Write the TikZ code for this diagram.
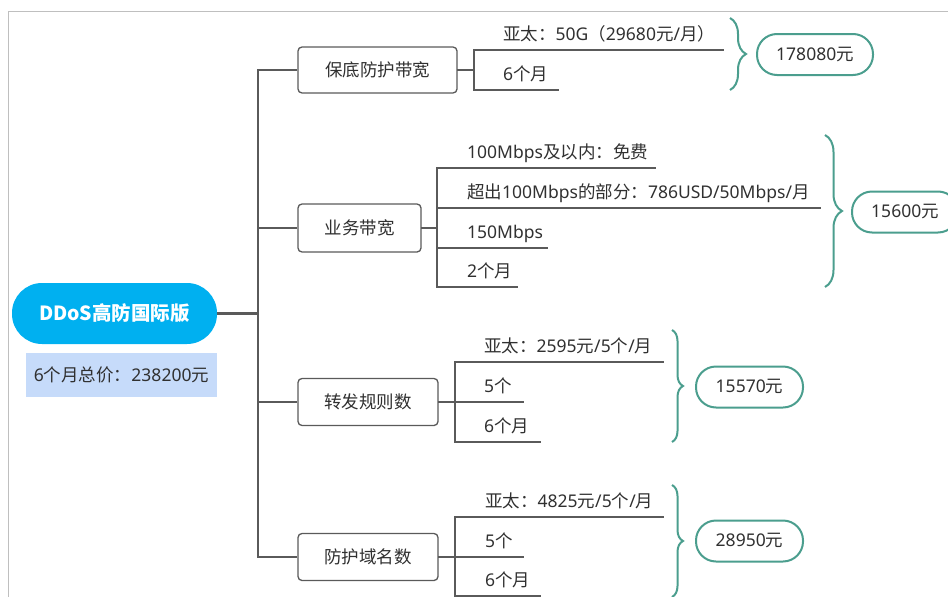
\documentclass[tikz,border=0pt]{standalone}
\usepackage{fontspec}
\setmainfont{Noto Sans}
\newfontfamily\cjk{Noto Sans CJK SC}
\newcommand\zh[1]{{\cjk #1}}
\usetikzlibrary{decorations.pathreplacing}
\definecolor{txt}{HTML}{303030}
\definecolor{ln}{HTML}{5A5A5A}
\definecolor{teal2}{HTML}{4B9E8E}
\definecolor{mainblue}{HTML}{00B0F0}
\definecolor{notebg}{HTML}{C6DBFA}
\definecolor{framecol}{HTML}{BFBFBF}
\newcommand\mmleaf[6]{%
  \coordinate (#1s) at (#2,#3);
  \coordinate (#1e) at (#4,#3);
  \node[leaftext, anchor=base west] (#1) at (#5,#3-10) {#6};
  \draw[leafline] (#1s) -- (#1e);
}
\begin{document}
\begin{tikzpicture}[x=1pt,y=-1pt,
  every node/.style={font=\fontsize{17.5}{20}\selectfont, text=txt},
  topic/.style={draw=ln, line width=1.3pt, rounded corners=4pt, fill=white, inner sep=0pt},
  leaftext/.style={inner sep=0pt},
  leafline/.style={draw=ln, line width=1.5pt, line cap=rect},
  busline/.style={draw=ln, line width=1.5pt, line cap=rect},
  trunkline/.style={draw=ln, line width=2.2pt},
  bracestyle/.style={draw=teal2, line width=2pt, decoration={brace, aspect=0.5, amplitude=#1}, decorate},
  pill/.style={draw=teal2, line width=2pt, rounded corners=20pt, minimum height=41pt, inner sep=0pt, fill=white}
]
\useasboundingbox (0,0) rectangle (948,597);
% frame
\coordinate (fr1) at (948,11);
\coordinate (fr2) at (8,11);
\coordinate (fr3) at (8,597);
\draw[framecol, line width=1pt] (fr1) -- (fr2) -- (fr3);

% root
\node[fill=mainblue, rounded corners=30pt, minimum width=205pt, minimum height=61pt, inner sep=0pt,
      text=white, font=\fontsize{19.5}{22}\selectfont\bfseries] (main) at (114.5,313.5) {\zh{DDoS高防国际版}};
\node[fill=notebg, minimum width=191pt, minimum height=44pt, inner sep=0pt] (note) at (121.5,375)
      {6\zh{个月总价：}238200\zh{元}};

% topics
\node[topic, minimum width=159pt, minimum height=46pt] (c1) at (377.5,70) {\zh{保底防护带宽}};
\node[topic, minimum width=123pt, minimum height=48pt] (c2) at (359.5,228) {\zh{业务带宽}};
\node[topic, minimum width=140pt, minimum height=47pt] (c3) at (368,402) {\zh{转发规则数}};
\node[topic, minimum width=140pt, minimum height=47pt] (c4) at (368,557) {\zh{防护域名数}};

% trunk
\coordinate (tm) at (258,313.5);
\coordinate (t1) at (258,70);
\coordinate (t2) at (258,228);
\coordinate (t3) at (258,402);
\coordinate (t4) at (258,557);
\draw[trunkline] (c1.west) -- (t1) -- (t4) -- (c4.west);
\draw[trunkline] (t2) -- (c2.west);
\draw[trunkline] (t3) -- (c3.west);
\draw[draw=ln, line width=3pt] (main.east) -- (tm);

% leaves of c1
\mmleaf{a1}{474}{50}{723}{503}{\zh{亚太：}50G\zh{（}29680\zh{元}/\zh{月）}}
\mmleaf{a2}{474}{90}{558}{503}{6\zh{个月}}
\coordinate (a0) at (474,70);
\draw[busline] (c1.east) -- (a0);
\draw[busline] (a1s) -- (a2s);

% leaves of c2
\mmleaf{b1}{437}{168}{655}{467}{100Mbps\zh{及以内：免费}}
\mmleaf{b2}{437}{208}{820}{467}{\zh{超出}100Mbps\zh{的部分：}786USD/50Mbps/\zh{月}}
\mmleaf{b3}{437}{248}{547}{467}{150Mbps}
\mmleaf{b4}{437}{287}{517}{467}{2\zh{个月}}
\coordinate (b0) at (437,228);
\draw[busline] (c2.east) -- (b0);
\draw[busline] (b1s) -- (b4s);

% leaves of c3
\mmleaf{d1}{455}{362}{663}{484}{\zh{亚太：}2595\zh{元}/5\zh{个}/\zh{月}}
\mmleaf{d2}{455}{402}{523}{484}{5\zh{个}}
\mmleaf{d3}{455}{442}{540}{484}{6\zh{个月}}
\draw[busline] (c3.east) -- (d2s);
\draw[busline] (d1s) -- (d3s);

% leaves of c4
\mmleaf{e1}{455}{517}{663}{485}{\zh{亚太：}4825\zh{元}/5\zh{个}/\zh{月}}
\mmleaf{e2}{455}{557}{523}{485}{5\zh{个}}
\mmleaf{e3}{455}{596}{540}{485}{6\zh{个月}}
\draw[busline] (c4.east) -- (e2s);
\draw[busline] (e1s) -- (e3s);

% braces
\coordinate (br1t) at (730,18);  \coordinate (br1b) at (730,90);
\coordinate (br2t) at (825,135); \coordinate (br2b) at (825,287);
\coordinate (br3t) at (672,330); \coordinate (br3b) at (672,442);
\coordinate (br4t) at (672,485); \coordinate (br4b) at (672,597);
\draw[bracestyle=16pt] (br1t) -- (br1b);
\draw[bracestyle=17pt] (br2t) -- (br2b);
\draw[bracestyle=11pt] (br3t) -- (br3b);
\draw[bracestyle=11pt] (br4t) -- (br4b);

% totals
\node[pill, minimum width=116pt] (p1) at (815,54.5) {178080\zh{元}};
\node[pill, minimum width=106pt] (p2) at (905,212) {15600\zh{元}};
\node[pill, minimum width=107pt] (p3) at (749.5,387) {15570\zh{元}};
\node[pill, minimum width=107pt] (p4) at (749.5,541) {28950\zh{元}};
\end{tikzpicture}
\end{document}
